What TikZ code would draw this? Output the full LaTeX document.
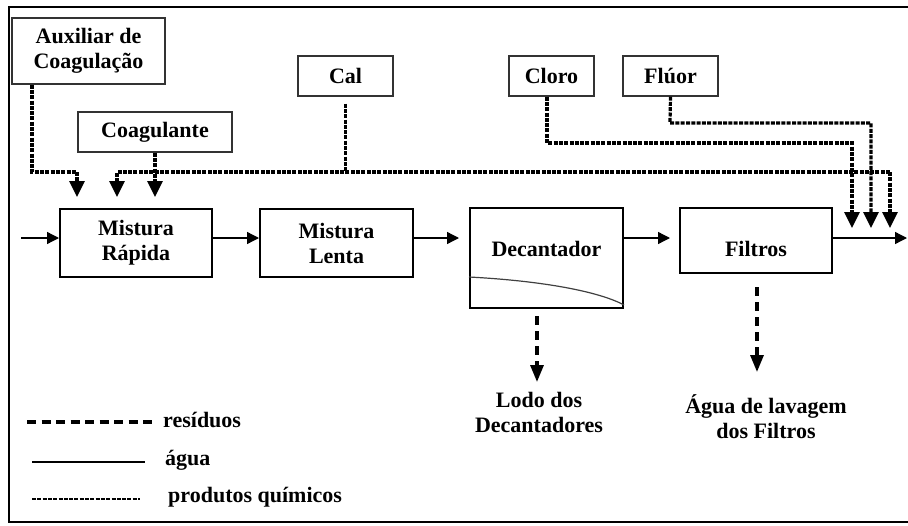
\documentclass[tikz,border=0pt]{standalone}
\usepackage{fontspec}
\setmainfont{Liberation Serif}
\usetikzlibrary{arrows.meta}
\begin{document}
\begin{tikzpicture}[x=1pt,y=-1pt,
  every node/.style={font=\fontsize{22}{25}\selectfont\bfseries, align=center, inner sep=0pt},
  chembox/.style={draw=black!80, line width=1.2pt, minimum height=40pt},
  procbox/.style={draw=black, line width=2pt},
  water/.style={line width=1.3pt, -{Triangle[width=12pt,length=12pt]}},
  chem/.style={line width=3.2pt, dash pattern=on 4pt off 1.3pt},
  chemarrow/.style={chem, -{Triangle[width=15pt,length=16pt]}},
  waste/.style={line width=3.2pt, dash pattern=on 9pt off 6pt},
  wastearrow/.style={waste, -{Triangle[width=13pt,length=17pt]}},
  legendtext/.style={anchor=west}
]
\clip (0,0) rectangle (908,525);
% outer frame
\draw[line width=2pt] (9,7) rectangle (930,522);

% chemical feed boxes
\node[chembox, minimum width=153pt, minimum height=66pt] (aux) at (88.5,51) {Auxiliar de\\Coagulação};
\node[chembox, minimum width=95pt] (cal) at (345.5,76) {Cal};
\node[chembox, minimum width=154pt] (coag) at (155,132) {Coagulante};
\node[chembox, minimum width=85pt] (cloro) at (551.5,76) {Cloro};
\node[chembox, minimum width=95pt] (fluor) at (670.5,76) {Flúor};

% treatment units
\node[procbox, minimum width=152pt, minimum height=68pt] (mr) at (136,243) {Mistura\\Rápida};
\node[procbox, minimum width=153pt, minimum height=68pt] (ml) at (336.5,243) {Mistura\\Lenta};
\node[procbox, minimum width=153pt, minimum height=100pt] (dec) at (546.5,258) {};
\node (dectxt) at (546.5,249) {Decantador};
\node[procbox, minimum width=152pt, minimum height=65pt] (fil) at (756,240.5) {};
\node (filtxt) at (756,249) {Filtros};
\draw[line width=1.2pt, black!75] (dec.west |- 0,277) .. controls (545,281) and (600,292) .. (dec.east |- 0,305);

% water flow
\coordinate (win) at (21,238);
\coordinate (wout) at (907,238);
\draw[water] (win) -- (win -| mr.west);
\draw[water] (mr.east |- win) -- (ml.west |- win);
\draw[water, shorten >=10pt] (ml.east |- win) -- (dec.west |- win);
\draw[water, shorten >=9pt] (dec.east |- win) -- (fil.west |- win);
\draw[water] (fil.east |- win) -- (wout);

% chemical dosing lines
\coordinate (t1) at (77,197);
\coordinate (t2) at (117,197);
\coordinate (t3) at (155,197);
\coordinate (t4) at (852,228);
\coordinate (t5) at (871,228);
\coordinate (t6) at (890,228);
\draw[chemarrow] (aux.south -| 32,0) -- (32,172) -- (t1 |- 0,172) -- (t1);
\draw[chemarrow] (t6 |- 0,172) -- (t2 |- 0,172) -- (t2);
\draw[chemarrow] (t6 |- 0,172) -- (t6);
\draw[chemarrow] (coag.south) -- (t3);
\draw[chem] ([yshift=-7pt]cal.south) -- (cal.south |- 0,172);
\draw[chemarrow] (cloro.south -| 547,0) -- (547,143) -- (t4 |- 0,143) -- (t4);
\draw[chemarrow] (fluor.south) -- (670,123) -- (t5 |- 0,123) -- (t5);

% waste streams
\node (lodo) at (539,412) {Lodo dos\\Decantadores};
\node (lav) at (766,417) {Água de lavagem\\dos Filtros};
\draw[wastearrow] ([yshift=-7pt]dec.south -| 537,0) -- (537,382);
\draw[wastearrow] ([yshift=-13pt]fil.south -| 757,0) -- (757,372);

% legend
\coordinate (l1a) at (27,422);
\coordinate (l1b) at (155,422);
\coordinate (l2a) at (32,462);
\coordinate (l2b) at (145,462);
\coordinate (l3a) at (32,499);
\coordinate (l3b) at (140,499);
\draw[waste, dash pattern=on 9pt off 5.5pt] (l1a) -- (l1b);
\draw[line width=1.6pt] (l2a) -- (l2b);
\draw[chem, line width=2.4pt] (l3a) -- (l3b);
\node[legendtext] (lres) at (163,420) {resíduos};
\node[legendtext] (lagua) at (165,460) {água};
\node[legendtext] (lprod) at (168,497) {produtos químicos};
\end{tikzpicture}
\end{document}
